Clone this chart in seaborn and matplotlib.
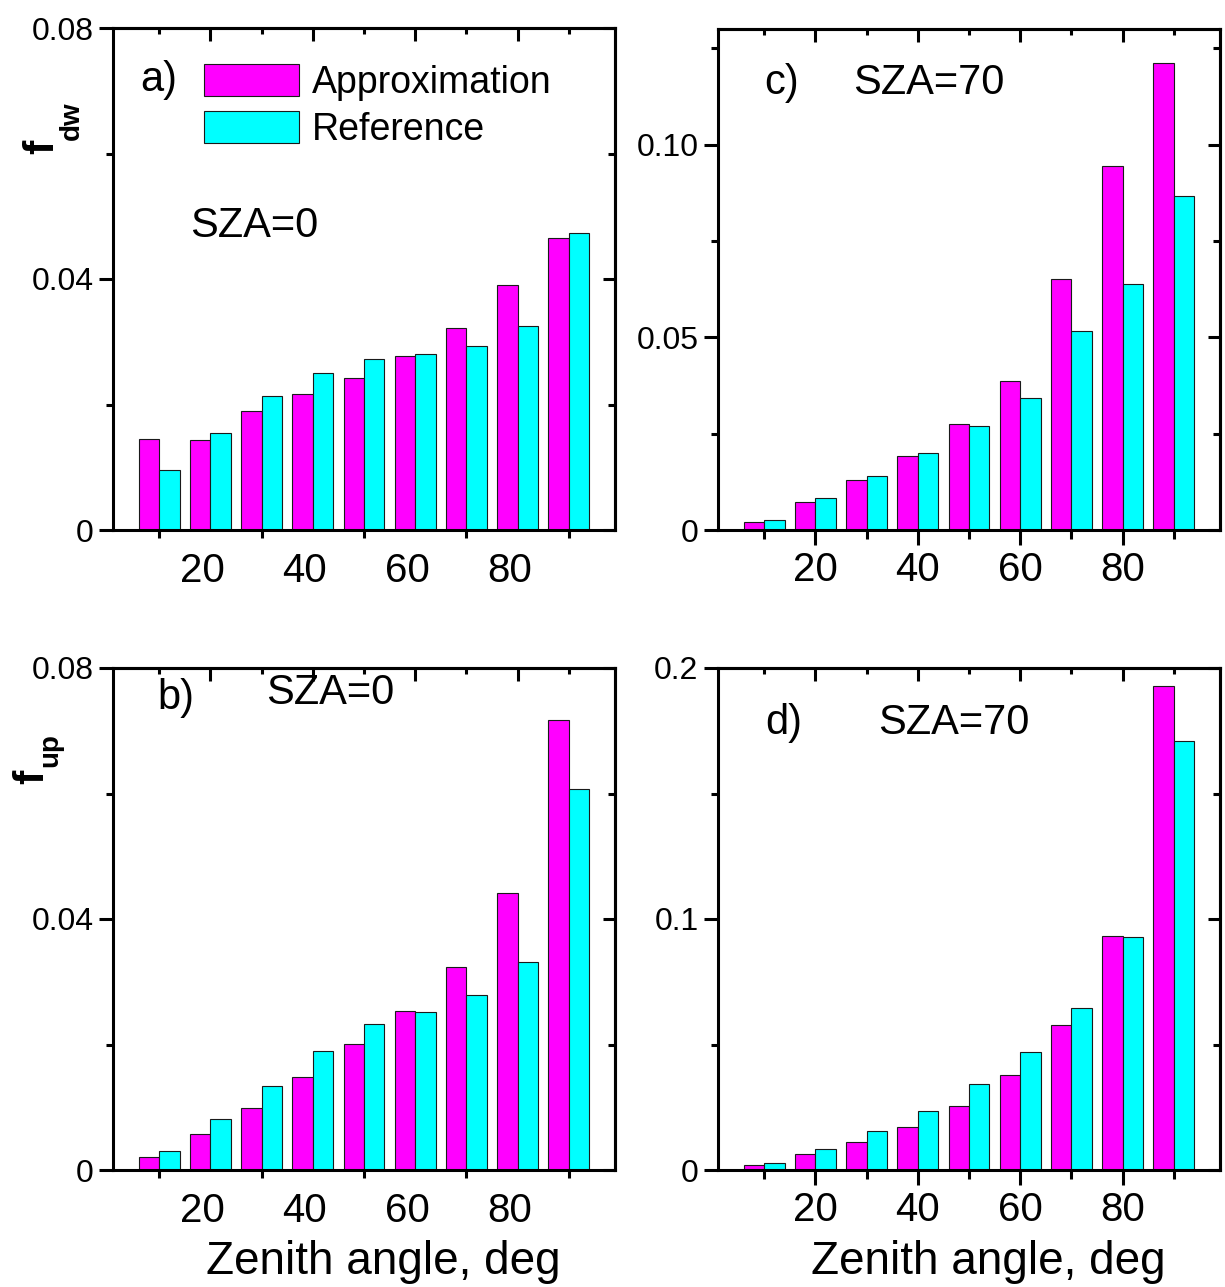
import numpy as np
import pandas as pd
import matplotlib
matplotlib.use("Agg")
import matplotlib.pyplot as plt
import matplotlib.transforms as mtransforms
from matplotlib.patches import Patch
import seaborn as sns

# ---------------- data ----------------
angles = [10, 20, 30, 40, 50, 60, 70, 80, 90]
series_names = ["Approximation", "Reference"]

a_approx = [0.0145, 0.0143, 0.0189, 0.0216, 0.0242, 0.0277, 0.0322, 0.0390, 0.0465]
a_ref    = [0.0095, 0.0154, 0.0214, 0.0250, 0.0273, 0.0280, 0.0293, 0.0325, 0.0473]

b_approx = [0.0020, 0.0057, 0.0099, 0.0148, 0.0201, 0.0253, 0.0324, 0.0442, 0.0717]
b_ref    = [0.0030, 0.0081, 0.0134, 0.0190, 0.0233, 0.0252, 0.0279, 0.0331, 0.0607]

c_approx = [0.0021, 0.0073, 0.0130, 0.0192, 0.0275, 0.0387, 0.0652, 0.0944, 0.1213]
c_ref    = [0.0026, 0.0083, 0.0140, 0.0200, 0.0270, 0.0343, 0.0517, 0.0639, 0.0867]

d_approx = [0.0020, 0.0062, 0.0112, 0.0173, 0.0254, 0.0378, 0.0578, 0.0932, 0.1928]
d_ref    = [0.0027, 0.0085, 0.0155, 0.0236, 0.0341, 0.0470, 0.0645, 0.0928, 0.1709]

colors = {"Approximation": "#FF00FF", "Reference": "#00FFFF"}

# ---------------- style ----------------
sns.set_theme(style="ticks")
plt.rcParams["font.family"] = ["Liberation Sans", "DejaVu Sans"]
plt.rcParams["axes.linewidth"] = 2.2
plt.rcParams["text.color"] = "black"
plt.rcParams["xtick.color"] = "black"
plt.rcParams["ytick.color"] = "black"
plt.rcParams["xtick.labelcolor"] = "black"
plt.rcParams["ytick.labelcolor"] = "black"
plt.rcParams["axes.edgecolor"] = "black"

W, H = 1225, 1287
fig = plt.figure(figsize=(W / 100, H / 100), dpi=100)


def px_axes(left, top, right, bottom):
    return fig.add_axes([left / W, 1 - bottom / H, (right - left) / W, (bottom - top) / H])


def make_df(approx, ref):
    return pd.DataFrame({
        "angle": angles * 2,
        "value": list(approx) + list(ref),
        "series": [series_names[0]] * len(angles) + [series_names[1]] * len(angles),
    })


def draw(ax, approx, ref, ylim, ymajor, ylabels, yminor, shifted_x):
    df = make_df(approx, ref)
    sns.barplot(data=df, x="angle", y="value", hue="series", hue_order=series_names,
                native_scale=True, palette=colors, saturation=1, width=0.8, gap=0,
                edgecolor="#1a1a1a", linewidth=0.8, errorbar=None, legend=False, ax=ax)
    ax.set_xlim(1, 99)
    ax.set_ylim(*ylim)
    ax.set_xlabel("")
    ax.set_ylabel("")
    for s in ax.spines.values():
        s.set_visible(True)
        s.set_linewidth(2.2)
        s.set_color("black")
    # y axis left
    ax.set_yticks(ymajor)
    ax.set_yticklabels(ylabels)
    ax.set_yticks(yminor, minor=True)
    ax.tick_params(axis="y", which="major", direction="out", length=10, width=2.2,
                   labelsize=23, pad=4, left=True, right=False)
    ax.tick_params(axis="y", which="minor", direction="out", length=5, width=2.2,
                   left=True, right=False)
    # x axis bottom
    ax.set_xticks([20, 40, 60, 80])
    ax.set_xticklabels(["20", "40", "60", "80"])
    ax.set_xticks([10, 30, 50, 70, 90], minor=True)
    if shifted_x:
        ax.tick_params(axis="x", which="major", length=0, labelsize=29, pad=16)
        ax.tick_params(axis="x", which="minor", direction="inout", length=12, width=2.2)
        offset = mtransforms.ScaledTranslation(-8 / 100, 0, fig.dpi_scale_trans)
        for lab in ax.get_xticklabels():
            lab.set_transform(lab.get_transform() + offset)
    else:
        ax.tick_params(axis="x", which="major", direction="out", length=11, width=2.2,
                       labelsize=29, pad=4)
        ax.tick_params(axis="x", which="minor", direction="out", length=6.5, width=2.2)
    ax.tick_params(axis="x", top=False, which="both")
    # top mirror ticks (inward)
    top = ax.secondary_xaxis("top")
    top.set_xticks([20, 40, 60, 80])
    top.set_xticks([10, 30, 50, 70, 90], minor=True)
    top.tick_params(which="major", direction="in", length=9, width=2.2, labeltop=False)
    top.tick_params(which="minor", direction="in", length=4, width=2.2)
    top.spines["top"].set_linewidth(2.2)
    # right mirror ticks (inward)
    right = ax.secondary_yaxis("right")
    right.set_yticks(ymajor)
    right.set_yticks(yminor, minor=True)
    right.tick_params(which="major", direction="in", length=9, width=2.2, labelright=False)
    right.tick_params(which="minor", direction="in", length=5, width=2.2)
    right.spines["right"].set_linewidth(2.2)


ax_a = px_axes(113, 28, 615, 530)
ax_c = px_axes(718, 29, 1220, 530)
ax_b = px_axes(113, 668, 615, 1170)
ax_d = px_axes(718, 668, 1220, 1170)

draw(ax_a, a_approx, a_ref, (0, 0.08), [0, 0.04, 0.08], ["0", "0.04", "0.08"],
     [0.02, 0.06], True)
draw(ax_b, b_approx, b_ref, (0, 0.08), [0, 0.04, 0.08], ["0", "0.04", "0.08"],
     [0.02, 0.06], True)
draw(ax_c, c_approx, c_ref, (0, 0.13), [0, 0.05, 0.10], ["0", "0.05", "0.10"],
     [0.025, 0.075, 0.125], False)
draw(ax_d, d_approx, d_ref, (0, 0.2), [0, 0.1, 0.2], ["0", "0.1", "0.2"],
     [0.05, 0.15], False)

# panel annotations
ax_a.text(0.092, 0.896, "a)", transform=ax_a.transAxes, fontsize=30, ha="center", va="center")
ax_a.text(0.153, 0.606, "SZA=0", transform=ax_a.transAxes, fontsize=30, ha="left", va="center")
ax_b.text(0.125, 0.940, "b)", transform=ax_b.transAxes, fontsize=30, ha="center", va="center")
ax_b.text(0.305, 0.950, "SZA=0", transform=ax_b.transAxes, fontsize=30, ha="left", va="center")
ax_c.text(0.127, 0.892, "c)", transform=ax_c.transAxes, fontsize=30, ha="center", va="center")
ax_c.text(0.269, 0.892, "SZA=70", transform=ax_c.transAxes, fontsize=30, ha="left", va="center")
ax_d.text(0.131, 0.890, "d)", transform=ax_d.transAxes, fontsize=30, ha="center", va="center")
ax_d.text(0.319, 0.890, "SZA=70", transform=ax_d.transAxes, fontsize=30, ha="left", va="center")

# y labels: bold "f" with a lowered bold subscript
ylab_kw = dict(rotation=90, rotation_mode="anchor", ha="center", va="baseline",
               fontweight="bold")
ax_a.text(-0.1195, 0.764, "f", transform=ax_a.transAxes, fontsize=31, **ylab_kw)
ax_a.text(-0.0677, 0.815, "dw", transform=ax_a.transAxes, fontsize=20, **ylab_kw)
ax_b.text(-0.1394, 0.784, "f", transform=ax_b.transAxes, fontsize=31, **ylab_kw)
ax_b.text(-0.1115, 0.836, "up", transform=ax_b.transAxes, fontsize=20, **ylab_kw)

# x labels
for ax in (ax_b, ax_d):
    ax.text(0.538, -0.183, "Zenith angle, deg", transform=ax.transAxes,
            fontsize=33, ha="center", va="center")

# legend
handles = [Patch(facecolor=colors[n], edgecolor="#1a1a1a", linewidth=0.8, label=n)
           for n in series_names]
ax_a.legend(handles=handles, loc="upper left", bbox_to_anchor=(0.181, 0.928),
            frameon=False, fontsize=27, handlelength=2.55, handleheight=0.95,
            handletextpad=0.33, labelspacing=0.26, borderpad=0, borderaxespad=0)

fig.savefig("out.png", dpi=100)
